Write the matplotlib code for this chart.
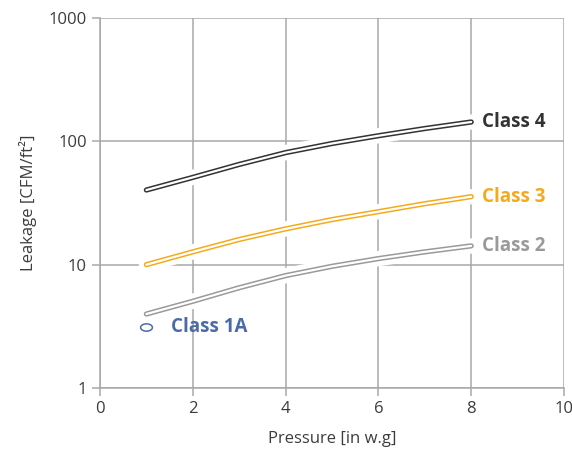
import matplotlib
matplotlib.use("Agg")
import matplotlib.pyplot as plt
from matplotlib.path import Path
import numpy as np

plt.rcParams['font.family'] = ['Open Sans', 'DejaVu Sans']

pressure = [1, 2, 3, 4, 5, 6, 7, 8]
class4 = [40.3, 51, 65, 81, 96, 111, 127, 143.5]
class3 = [10.0, 12.7, 16.0, 19.5, 23.2, 26.9, 31.2, 35.6]
class2 = [3.98, 5.05, 6.5, 8.15, 9.7, 11.2, 12.7, 14.2]
class1a_x = [1]
class1a_y = [3.1]

x_ticks = [0, 2, 4, 6, 8, 10]
y_ticks = [1, 10, 100, 1000]
y_ticklabels = ["1", "10", "100", "1000"]

series = [
    ("Class 4", class4, "#333333"),
    ("Class 3", class3, "#F5AA1C"),
    ("Class 2", class2, "#9a9a9a"),
]
blue = "#4B6AA8"
grid_c = "#a8a8a8"
text_c = "#3c3c3c"

fig = plt.figure(figsize=(5.72, 4.53), dpi=100)
ax = fig.add_axes([100/572, 1-388/453, 464/572, 370/453])
ax.set_yscale('log')
ax.set_xlim(0, 10)
ax.set_ylim(1, 1000)
ax.set_xticks(x_ticks)
ax.set_yticks(y_ticks)
ax.set_yticklabels(y_ticklabels)
ax.yaxis.set_minor_locator(matplotlib.ticker.NullLocator())

ax.grid(True, which='major', color=grid_c, linewidth=1.1, zorder=0)
ax.set_axisbelow(True)
for s in ['top', 'right']:
    ax.spines[s].set_visible(False)
for s in ['left', 'bottom']:
    ax.spines[s].set_color(grid_c)
    ax.spines[s].set_linewidth(1.1)
ax.tick_params(axis='both', colors=grid_c, length=5.5, width=1.1, labelcolor=text_c,
               labelsize=12, pad=4)

for name, vals, col in series:
    ax.plot(pressure, vals, color='white', lw=11, solid_capstyle='round',
            solid_joinstyle='round', zorder=2)
for name, vals, col in series:
    ax.plot(pressure, vals, color=col, lw=3.8, solid_capstyle='round',
            solid_joinstyle='round', zorder=3)
    ax.plot(pressure, vals, color='white', lw=1.6, solid_capstyle='round',
            solid_joinstyle='round', zorder=4)
    ax.annotate(name, xy=(pressure[-1], vals[-1]), xytext=(8, 0),
                textcoords='offset points', color=col, fontsize=13.5,
                fontweight='bold', va='center', ha='left', zorder=5)

# Class 1A marker (flattened ellipse)
t = np.linspace(0, 2*np.pi, 60)
ell = Path(np.column_stack([np.cos(t), 0.62*np.sin(t)]))
for xv, yv in zip(class1a_x, class1a_y):
    ax.plot([xv], [yv], marker=ell, markersize=8.5, markerfacecolor='white',
            markeredgecolor=blue, markeredgewidth=1.1, zorder=5, linestyle='none')
    ax.annotate("Class 1A", xy=(xv, yv), xytext=(18, 0), textcoords='offset points',
                color=blue, fontsize=13.5, fontweight='bold', va='center', ha='left')

ax.set_xlabel("Pressure [in w.g]", color=text_c, fontsize=12, labelpad=10)
ax.set_ylabel("Leakage [CFM/ft²]", color=text_c, fontsize=12, labelpad=8)

fig.savefig("out.png", dpi=100)
